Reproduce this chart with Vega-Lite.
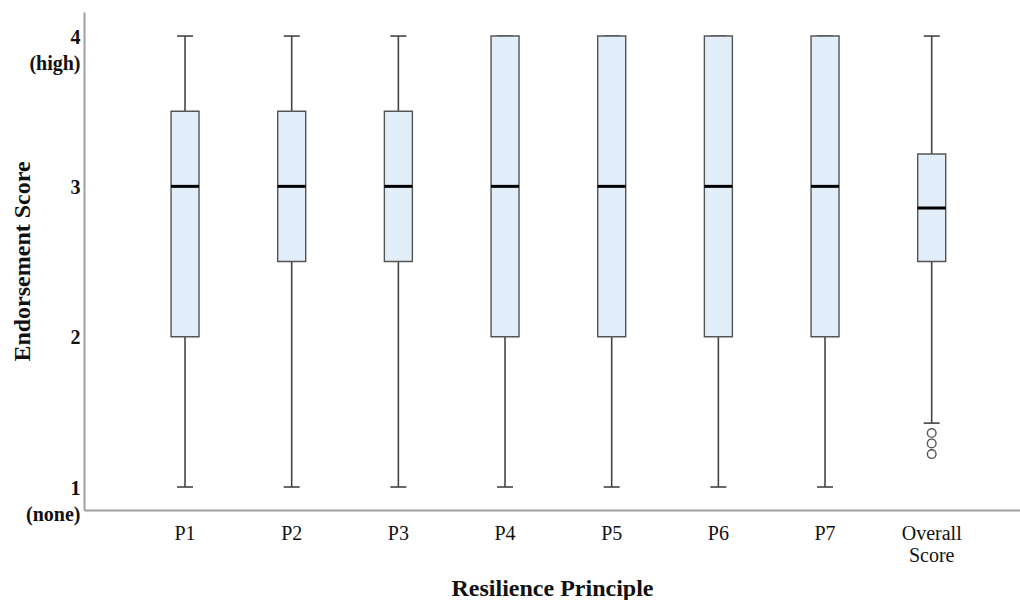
{
  "$schema": "https://vega.github.io/schema/vega-lite/v6.json",
  "width": 936,
  "height": 498,
  "autosize": {"type": "none"},
  "padding": {"left": 84, "top": 12, "right": 0, "bottom": 90},
  "background": "white",
  "config": {"view": {"stroke": null}, "font": "Liberation Serif"},
  "datasets": {
    "boxes": [
      {"principle": "P1", "lower": 1, "q1": 2, "median": 3, "q3": 3.5, "upper": 4},
      {"principle": "P2", "lower": 1, "q1": 2.5, "median": 3, "q3": 3.5, "upper": 4},
      {"principle": "P3", "lower": 1, "q1": 2.5, "median": 3, "q3": 3.5, "upper": 4},
      {"principle": "P4", "lower": 1, "q1": 2, "median": 3, "q3": 4, "upper": 4},
      {"principle": "P5", "lower": 1, "q1": 2, "median": 3, "q3": 4, "upper": 4},
      {"principle": "P6", "lower": 1, "q1": 2, "median": 3, "q3": 4, "upper": 4},
      {"principle": "P7", "lower": 1, "q1": 2, "median": 3, "q3": 4, "upper": 4},
      {"principle": "Overall Score", "lower": 1.425, "q1": 2.5, "median": 2.856, "q3": 3.215, "upper": 4}
    ],
    "outliers": [
      {"principle": "Overall Score", "value": 1.359},
      {"principle": "Overall Score", "value": 1.29},
      {"principle": "Overall Score", "value": 1.219}
    ]
  },
  "encoding": {
    "x": {
      "field": "principle",
      "type": "nominal",
      "sort": ["P1", "P2", "P3", "P4", "P5", "P6", "P7", "Overall Score"],
      "scale": {"domain": ["P1", "P2", "P3", "P4", "P5", "P6", "P7", "Overall Score"], "paddingInner": 0, "paddingOuter": 0.3875, "align": 0.577},
      "axis": {
        "title": "Resilience Principle",
        "titleFont": "Liberation Serif",
        "titleFontSize": 24,
        "titleFontWeight": "bold",
        "titleColor": "#111",
        "titleY": 78,
        "titleBaseline": "middle",
        "labelFont": "Liberation Serif",
        "labelFontSize": 20,
        "labelColor": "#111",
        "labelAngle": 0,
        "labelBaseline": "top",
        "labelPadding": 13,
        "labelLineHeight": 22,
        "labelExpr": "datum.value == 'Overall Score' ? ['Overall', 'Score'] : datum.value",
        "ticks": false,
        "domainColor": "#a0a0a0",
        "domainWidth": 2
      }
    }
  },
  "layer": [
    {
      "data": {"name": "boxes"},
      "mark": {"type": "rule", "color": "#444", "strokeWidth": 1.6, "opacity": 1},
      "encoding": {
        "y": {
          "field": "lower",
          "type": "quantitative",
          "scale": {"domain": [0.847, 4.16], "nice": false, "zero": false},
          "axis": {
            "title": "Endorsement Score",
            "titleFont": "Liberation Serif",
            "titleFontSize": 24,
            "titleFontWeight": "bold",
            "titleColor": "#111",
            "titleX": -62,
            "titleBaseline": "middle",
            "values": [1, 2, 3, 4],
            "format": "d",
            "labelExpr": "datum.value == 4 ? ['4', '(high)'] : datum.value == 1 ? ['1', '(none)'] : datum.label",
            "labelFont": "Liberation Serif",
            "labelFontSize": 20,
            "labelFontWeight": "bold",
            "labelColor": "#111",
            "labelBaseline": "alphabetic",
            "labelOffset": 7,
            "labelLineHeight": 26,
            "labelPadding": 4,
            "ticks": false,
            "grid": false,
            "domainColor": "#a0a0a0",
            "domainWidth": 2
          }
        },
        "y2": {"field": "upper"}
      }
    },
    {
      "data": {"name": "boxes"},
      "mark": {"type": "tick", "color": "#444", "size": 16, "thickness": 1.6, "opacity": 1},
      "encoding": {"y": {"field": "lower", "type": "quantitative"}}
    },
    {
      "data": {"name": "boxes"},
      "mark": {"type": "tick", "color": "#444", "size": 16, "thickness": 1.6, "opacity": 1},
      "encoding": {"y": {"field": "upper", "type": "quantitative"}}
    },
    {
      "data": {"name": "boxes"},
      "mark": {"type": "bar", "size": 28, "fill": "#e2eefa", "stroke": "#555", "strokeWidth": 1.4, "opacity": 1},
      "encoding": {
        "y": {"field": "q1", "type": "quantitative"},
        "y2": {"field": "q3"}
      }
    },
    {
      "data": {"name": "boxes"},
      "mark": {"type": "tick", "color": "#000", "size": 28, "thickness": 3, "opacity": 1},
      "encoding": {"y": {"field": "median", "type": "quantitative"}}
    },
    {
      "data": {"name": "outliers"},
      "mark": {"type": "point", "shape": "circle", "filled": false, "size": 75, "stroke": "#555", "strokeWidth": 1.4, "opacity": 1},
      "encoding": {"y": {"field": "value", "type": "quantitative"}}
    }
  ]
}
